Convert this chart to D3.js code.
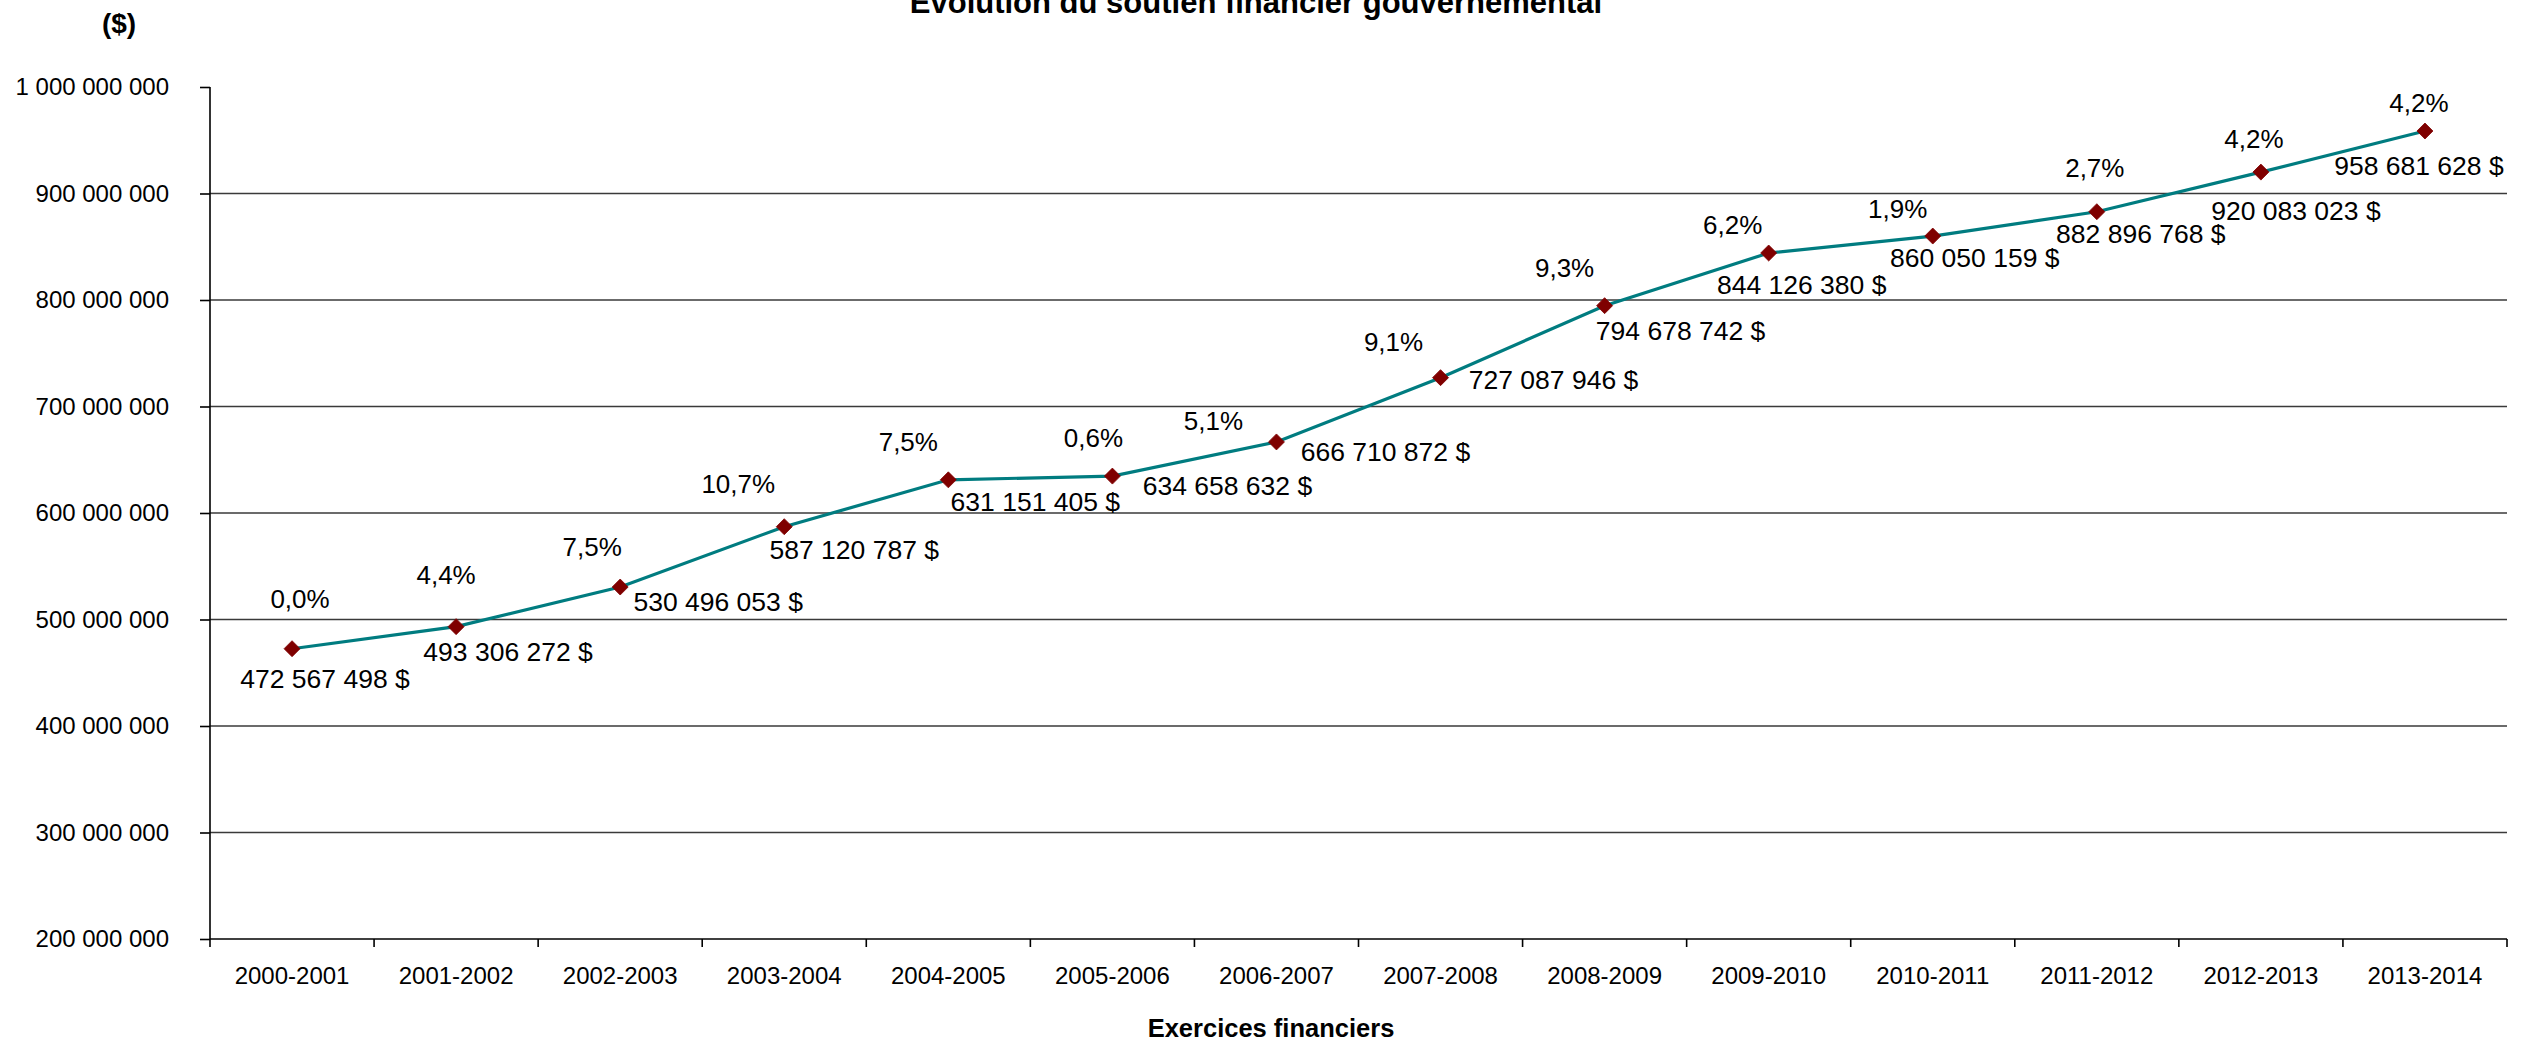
<!DOCTYPE html>
<html>
<head>
<meta charset="utf-8">
<script src="https://cdn.jsdelivr.net/npm/d3@7"></script>
<style>
  html, body { margin: 0; padding: 0; background: #ffffff; }
  svg { display: block; font-family: "Liberation Sans", Arial, sans-serif; }
</style>
</head>
<body>
<svg id="chart" width="2538" height="1046"></svg>
<script>
// ---- data ----
const categories = ["2000-2001","2001-2002","2002-2003","2003-2004","2004-2005","2005-2006","2006-2007",
  "2007-2008","2008-2009","2009-2010","2010-2011","2011-2012","2012-2013","2013-2014"];
const values = [472567498, 493306272, 530496053, 587120787, 631151405, 634658632, 666710872,
  727087946, 794678742, 844126380, 860050159, 882896768, 920083023, 958681628];
const growthPct = [0.0, 4.4, 7.5, 10.7, 7.5, 0.6, 5.1, 9.1, 9.3, 6.2, 1.9, 2.7, 4.2, 4.2];
const yTickValues = [200000000, 300000000, 400000000, 500000000, 600000000, 700000000,
  800000000, 900000000, 1000000000];
const titleText = "Evolution du soutien financier gouvernemental";
const yUnitText = "($)";
const xTitleText = "Exercices financiers";

// ---- label nudges (layout, in px relative to the point) ----
const pctNudge = [[8,-41],[-10,-43],[-28,-31],[-46,-34],[-40,-29],[-19,-29],[-63,-12],
  [-47,-27],[-40,-29],[-36,-19],[-35,-18],[-2,-35],[-7,-24],[-6,-19]];
const valNudge = [[33,39],[52,34],[98,24],[70,32],[87,31],[115,19],[109,19],
  [113,11],[76,34],[33,41],[42,31],[44,31],[35,48],[-6,44]];

// ---- layout ----
const W = 2538, H = 1046;
const margin = {left: 210, right: 31, top: 87, bottom: 107};
const svg = d3.select("#chart");

const fr = d3.formatLocale({decimal: ",", thousands: "\u00a0", grouping: [3], currency: ["", "\u00a0$"]});
const fmtInt = fr.format(",d");
const fmtPct = v => fr.format(".1f")(v) + "%";

const x = d3.scaleBand().domain(categories).range([margin.left, W - margin.right]).padding(0);
const y = d3.scaleLinear().domain([200000000, 1000000000]).range([H - margin.bottom, margin.top]);

// gridlines
svg.append("g")
  .selectAll("line")
  .data(yTickValues.filter(v => v > 200000000 && v < 1000000000))
  .join("line")
  .attr("x1", margin.left).attr("x2", W - margin.right)
  .attr("y1", d => y(d)).attr("y2", d => y(d))
  .attr("stroke", "#3a3a3a").attr("stroke-width", 1.6);

// y axis
const yAxis = svg.append("g")
  .attr("transform", `translate(${margin.left},0)`)
  .call(d3.axisLeft(y).tickValues(yTickValues).tickFormat(fmtInt).tickSize(10).tickPadding(31));
yAxis.select(".domain").attr("stroke", "#000").attr("stroke-width", 1.6)
  .attr("d", `M0,${margin.top}V${H - margin.bottom + 8}`);
yAxis.selectAll(".tick line").attr("stroke", "#000").attr("stroke-width", 1.6);
yAxis.selectAll(".tick text").attr("font-size", 24).attr("fill", "#000")
  .attr("font-family", "'Liberation Sans', Arial, sans-serif");

// x axis
const xAxis = svg.append("g")
  .attr("transform", `translate(0,${H - margin.bottom})`)
  .call(d3.axisBottom(x).tickSize(0).tickPadding(28));
xAxis.select(".domain").attr("stroke", "#000").attr("stroke-width", 1.6)
  .attr("d", `M${margin.left},0H${W - margin.right}`);
xAxis.selectAll(".tick text").attr("font-size", 24).attr("fill", "#000")
  .attr("font-family", "'Liberation Sans', Arial, sans-serif");
// boundary ticks between categories
svg.append("g").selectAll("line")
  .data(categories)
  .join("line")
  .attr("x1", d => x(d) + x.bandwidth()).attr("x2", d => x(d) + x.bandwidth())
  .attr("y1", H - margin.bottom).attr("y2", H - margin.bottom + 8)
  .attr("stroke", "#000").attr("stroke-width", 1.6);

// line
const cx = (d, i) => x(categories[i]) + x.bandwidth() / 2;
const line = d3.line().x((d, i) => cx(d, i)).y(d => y(d));
svg.append("path")
  .datum(values)
  .attr("d", line)
  .attr("fill", "none")
  .attr("stroke", "#007c80")
  .attr("stroke-width", 3.2);

// markers (diamonds)
svg.append("g").selectAll("path")
  .data(values)
  .join("path")
  .attr("transform", (d, i) => `translate(${cx(d, i)},${y(d)})`)
  .attr("d", "M0,-8L8,0L0,8L-8,0Z")
  .attr("fill", "#7f0000")
  .attr("stroke", "#7f0000").attr("stroke-width", 0.8);

// percentage labels
svg.append("g").selectAll("text")
  .data(growthPct)
  .join("text")
  .attr("x", (d, i) => cx(values[i], i) + pctNudge[i][0])
  .attr("y", (d, i) => y(values[i]) + pctNudge[i][1])
  .attr("text-anchor", "middle")
  .attr("font-size", 26)
  .attr("fill", "#000")
  .text(d => fmtPct(d));

// value labels
svg.append("g").selectAll("text")
  .data(values)
  .join("text")
  .attr("x", (d, i) => cx(d, i) + valNudge[i][0])
  .attr("y", (d, i) => y(d) + valNudge[i][1])
  .attr("text-anchor", "middle")
  .attr("font-size", 26.5)
  .attr("fill", "#000")
  .text(d => fmtInt(d) + "\u00a0$");

// titles
svg.append("text")
  .attr("x", 1256).attr("y", 13)
  .attr("text-anchor", "middle")
  .attr("font-size", 31).attr("font-weight", "bold")
  .text(titleText);
svg.append("text")
  .attr("x", 119).attr("y", 33)
  .attr("text-anchor", "middle")
  .attr("font-size", 28).attr("font-weight", "bold")
  .text(yUnitText);
svg.append("text")
  .attr("x", 1271).attr("y", 1037)
  .attr("text-anchor", "middle")
  .attr("font-size", 25.5).attr("font-weight", "bold")
  .text(xTitleText);
</script>
</body>
</html>
